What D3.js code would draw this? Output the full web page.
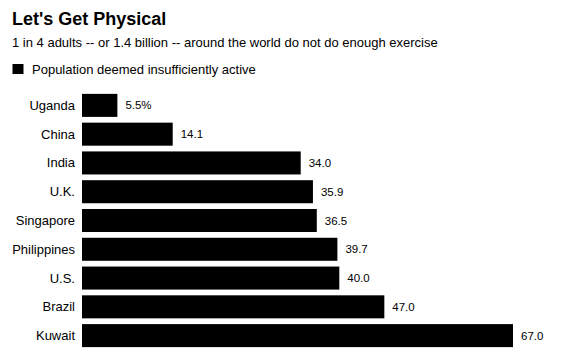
<!DOCTYPE html>
<html>
<head>
<meta charset="utf-8">
<script src="https://cdn.jsdelivr.net/npm/d3@7"></script>
<style>
  body { margin: 0; background: #fff; }
  svg { display: block; font-family: "Liberation Sans", Arial, sans-serif; }
</style>
</head>
<body>
<div id="chart"></div>
<script>
const countries = ["Uganda", "China", "India", "U.K.", "Singapore", "Philippines", "U.S.", "Brazil", "Kuwait"];
const values = [5.5, 14.1, 34.0, 35.9, 36.5, 39.7, 40.0, 47.0, 67.0];
const valueLabels = ["5.5%", "14.1", "34.0", "35.9", "36.5", "39.7", "40.0", "47.0", "67.0"];
const legendLabel = "Population deemed insufficiently active";

const width = 581;
const height = 361;

const svg = d3.select("#chart")
    .append("svg")
    .attr("width", width)
    .attr("height", height);

// Title and subtitle
svg.append("text")
    .attr("x", 12)
    .attr("y", 25)
    .attr("font-size", "18px")
    .attr("font-weight", "bold")
    .attr("fill", "#000")
    .text("Let's Get Physical");

svg.append("text")
    .attr("x", 12)
    .attr("y", 47)
    .attr("font-size", "13px")
    .attr("fill", "#000")
    .text("1 in 4 adults -- or 1.4 billion -- around the world do not do enough exercise");

// Legend
svg.append("rect")
    .attr("x", 12.5)
    .attr("y", 64)
    .attr("width", 11)
    .attr("height", 10)
    .attr("fill", "#000");

svg.append("text")
    .attr("x", 32)
    .attr("y", 73.5)
    .attr("font-size", "13px")
    .attr("fill", "#000")
    .text(legendLabel);

// Scales
const x = d3.scaleLinear()
    .domain([0, 67])
    .range([82, 513]);

const y = d3.scaleBand()
    .domain(countries)
    .range([91, 350])
    .paddingInner(0.2)
    .paddingOuter(0.1);

const rows = countries.map((c, i) => ({ country: c, value: values[i], label: valueLabels[i] }));

// Bars
svg.append("g")
    .selectAll("rect")
    .data(rows)
    .join("rect")
    .attr("x", x(0))
    .attr("y", d => y(d.country))
    .attr("width", d => x(d.value) - x(0))
    .attr("height", y.bandwidth())
    .attr("fill", "#000");

// Country labels
svg.append("g")
    .selectAll("text")
    .data(rows)
    .join("text")
    .attr("x", 75)
    .attr("y", d => y(d.country) + y.bandwidth() / 2)
    .attr("dy", "0.35em")
    .attr("text-anchor", "end")
    .attr("font-size", "13px")
    .attr("fill", "#000")
    .text(d => d.country);

// Value labels
svg.append("g")
    .selectAll("text")
    .data(rows)
    .join("text")
    .attr("x", d => x(d.value) + 8)
    .attr("y", d => y(d.country) + y.bandwidth() / 2)
    .attr("dy", "0.35em")
    .attr("font-size", "11.5px")
    .attr("fill", "#000")
    .text(d => d.label);
</script>
</body>
</html>
